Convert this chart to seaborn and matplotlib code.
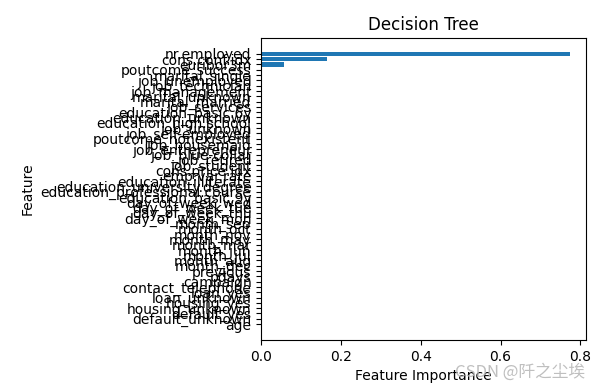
# Decision tree feature importances (bank marketing, one-hot encoded)

import matplotlib
matplotlib.use("Agg")
import matplotlib.pyplot as plt
import pandas as pd
import seaborn as sns

# features listed top -> bottom as they appear on the chart
features = [
    "nr.employed", "cons.conf.idx", "euribor3m", "poutcome_success",
    "marital_single", "job_unemployed", "job_technician", "job_management",
    "marital_unknown", "marital_married", "job_services", "education_basic.6y",
    "education_unknown", "education_high.school", "job_unknown",
    "job_self-employed", "poutcome_nonexistent", "job_housemaid",
    "job_entrepreneur", "job_blue-collar", "job_retired", "job_student",
    "cons.price.idx", "emp.var.rate", "education_illiterate",
    "education_university.degree", "education_professional.course",
    "education_basic.9y", "day_of_week_wed", "day_of_week_tue",
    "day_of_week_thu", "day_of_week_mon", "month_sep", "month_oct",
    "month_nov", "month_may", "month_mar", "month_jun", "month_jul",
    "month_aug", "month_dec", "previous", "pdays", "campaign",
    "contact_telephone", "loan_yes", "loan_unknown", "housing_yes",
    "housing_unknown", "default_yes", "default_unknown", "age",
]
importances = [0.775, 0.165, 0.058] + [0.0] * (len(features) - 3)

df = pd.DataFrame({"Feature": features, "Importance": importances})

fig, ax = plt.subplots(figsize=(6.02, 3.92), dpi=100)
fig.subplots_adjust(left=0.434, right=0.973, top=0.903, bottom=0.133)

sns.barplot(data=df, x="Importance", y="Feature", order=features,
            orient="h", color="#1f77b4", saturation=1, width=0.8, ax=ax)

# matplotlib-like 5% margins around the bars
n = len(features)
pad = 0.05 * (n - 1 + 0.8)
ax.set_ylim(n - 1 + 0.4 + pad, -0.4 - pad)
ax.set_xlim(0, max(importances) * 1.05)

ax.set_title("Decision Tree")
ax.set_xlabel("Feature Importance")
ax.set_ylabel("Feature")
for s in ax.spines.values():
    s.set_visible(True)

fig.text(0.972, 0.05, "CSDN @阡之尘埃", ha="right", va="center",
         color="#b8b8b8", fontsize=12, alpha=0.9,
         family=["Noto Sans CJK SC", "DejaVu Sans"])

fig.savefig("out.png", dpi=100)
